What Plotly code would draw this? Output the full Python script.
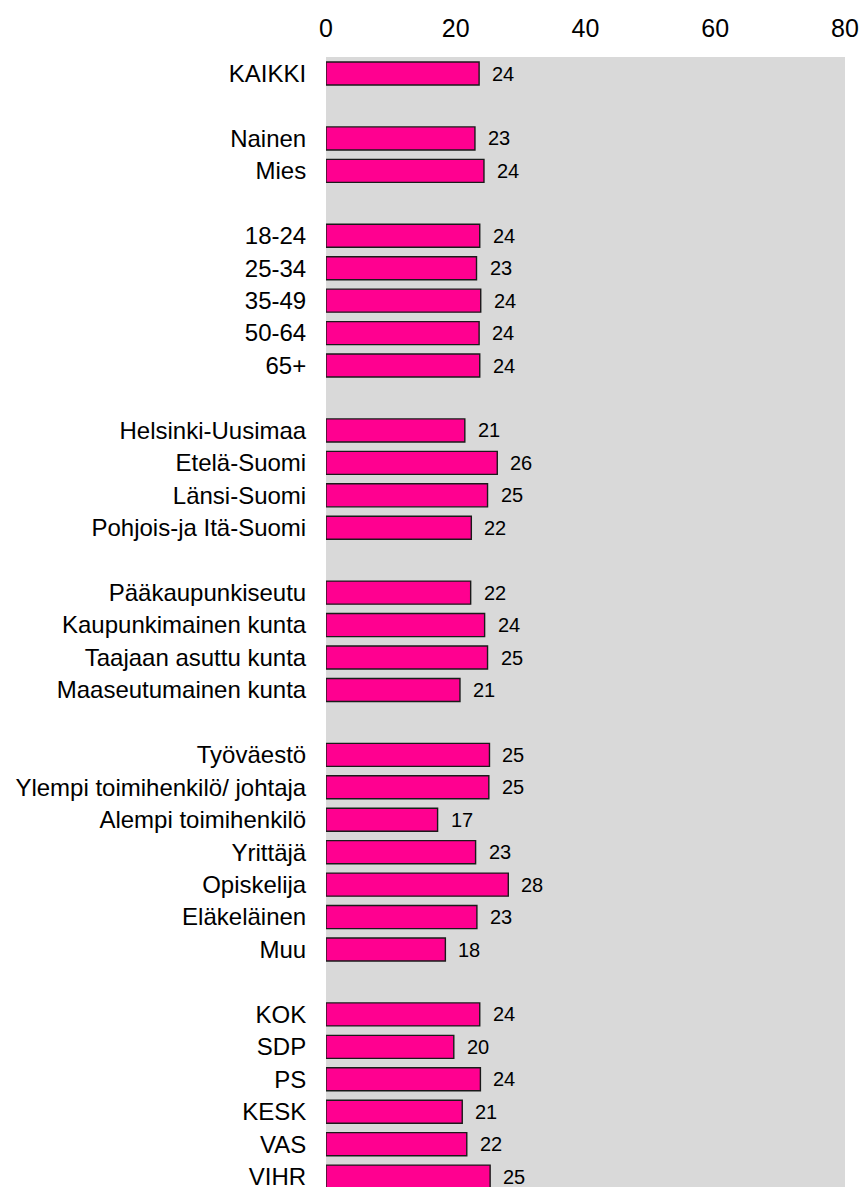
import plotly.graph_objects as go

# Groups of categories (blank rows separate groups)
groups = [
    ["KAIKKI"],
    ["Nainen", "Mies"],
    ["18-24", "25-34", "35-49", "50-64", "65+"],
    ["Helsinki-Uusimaa", "Etelä-Suomi", "Länsi-Suomi", "Pohjois-ja Itä-Suomi"],
    ["Pääkaupunkiseutu", "Kaupunkimainen kunta", "Taajaan asuttu kunta", "Maaseutumainen kunta"],
    ["Työväestö", "Ylempi toimihenkilö/ johtaja", "Alempi toimihenkilö", "Yrittäjä",
     "Opiskelija", "Eläkeläinen", "Muu"],
    ["KOK", "SDP", "PS", "KESK", "VAS", "VIHR"],
]

values = [
    23.6,
    22.96, 24.35,
    23.7, 23.2, 23.85, 23.6, 23.7,
    21.4, 26.4, 24.9, 22.4,
    22.3, 24.45, 24.9, 20.65,
    25.2, 25.1, 17.2, 23.06, 28.1, 23.26, 18.4,
    23.7, 19.7, 23.8, 21.0, 21.7, 25.3,
]

value_labels = [
    "24",
    "23", "24",
    "24", "23", "24", "24", "24",
    "21", "26", "25", "22",
    "22", "24", "25", "21",
    "25", "25", "17", "23", "28", "23", "18",
    "24", "20", "24", "21", "22", "25",
]

x_ticks = [0, 20, 40, 60, 80]

# row positions: one blank row between groups
categories = []
ypos = []
k = 0
for gi, g in enumerate(groups):
    if gi > 0:
        k += 1
    for c in g:
        categories.append(c)
        ypos.append(k)
        k += 1

FONT = "Arial, Liberation Sans, sans-serif"

fig = go.Figure()
fig.add_trace(go.Bar(
    x=values,
    y=ypos,
    orientation="h",
    width=0.71,
    marker=dict(color="#FF0090", line=dict(color="#1a1a1a", width=1.4)),
    hoverinfo="skip",
))

for v, yy, t in zip(values, ypos, value_labels):
    fig.add_annotation(
        x=v, y=yy, text=t, showarrow=False,
        xanchor="left", yanchor="middle", xshift=11,
        font=dict(family=FONT, size=20, color="#000000"),
    )

fig.update_layout(
    width=862,
    height=1187,
    margin=dict(l=326, r=17, t=57, b=0, autoexpand=False),
    plot_bgcolor="#D9D9D9",
    paper_bgcolor="#FFFFFF",
    showlegend=False,
    bargap=0,
    font=dict(family=FONT, color="#000000"),
)

fig.update_xaxes(
    side="top",
    range=[0, 80],
    tickvals=x_ticks,
    ticktext=[str(t) for t in x_ticks],
    showgrid=False,
    zeroline=False,
    showline=False,
    ticks="outside",
    ticklen=9,
    tickcolor="rgba(0,0,0,0)",
    tickfont=dict(family=FONT, size=25, color="#000000"),
    ticklabeloverflow="allow",
    fixedrange=True,
)

fig.update_yaxes(
    range=[34.32, -0.51],
    tickvals=ypos,
    ticktext=categories,
    showgrid=False,
    zeroline=False,
    showline=False,
    ticks="outside",
    ticklen=14,
    tickcolor="rgba(0,0,0,0)",
    tickfont=dict(family=FONT, size=24, color="#000000"),
    ticklabeloverflow="allow",
    fixedrange=True,
)

fig.write_html(
    "out.html",
    config={"displayModeBar": False, "staticPlot": True},
    post_script="document.body.style.margin='0';document.body.style.overflow='hidden';",
)
